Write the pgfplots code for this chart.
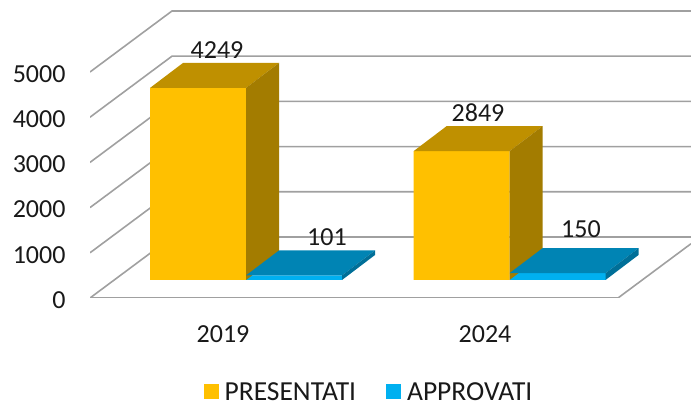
\documentclass[border=0pt]{standalone}
\usepackage{pgfplots}
\pgfplotsset{compat=1.18}
\usepackage{fontspec}
\setmainfont{Carlito}
\definecolor{gridc}{HTML}{A0A0A0}
\definecolor{pfront}{HTML}{FFC000}
\definecolor{ptop}{HTML}{BF9000}
\definecolor{pside}{HTML}{A37C00}
\definecolor{afront}{HTML}{00B0F0}
\definecolor{atop}{HTML}{0084B4}
\definecolor{aside}{HTML}{006F98}
\tikzset{gl/.style={draw=gridc, line width=1.6pt, no markers}}
\begin{document}
\begin{tikzpicture}[x=1pt,y=1pt]
\useasboundingbox (0,0) rectangle (691,403);
% ---- walls, floor and value axis: y = 0 at the front floor edge
\begin{axis}[
  at={(90pt,105pt)}, anchor=south west,
  scale only axis, width=601pt, height=298pt,
  xmin=90, xmax=691, ymin=0, ymax=6593,
  axis line style={draw=none}, major tick length=0pt,
  ytick={0,1000,2000,3000,4000,5000},
  xtick={223,485}, xticklabels={2019,2024},
  /pgf/number format/assume math mode=true,
  /pgf/number format/set thousands separator={},
  ticklabel style={font=\fontsize{26}{30}\selectfont, text=black!90},
  yticklabel style={xshift=-21pt, yshift=-2pt},
  xticklabel style={yshift=-24pt},
]
\addplot[gl] coordinates {(90,0) (172,1350) (691,1350)};
\addplot[gl] coordinates {(90,1000) (172,2350) (691,2350)};
\addplot[gl] coordinates {(90,2000) (172,3350) (691,3350)};
\addplot[gl] coordinates {(90,3000) (172,4350) (691,4350)};
\addplot[gl] coordinates {(90,4000) (172,5350) (691,5350)};
\addplot[gl] coordinates {(90,5000) (172,6350) (691,6350)};
\addplot[gl] coordinates {(90,0) (618,0) (691,1201)};
\end{axis}
% ---- bars: y = 0 at the foot of the bars
\begin{axis}[
  at={(90pt,123pt)}, anchor=south west,
  scale only axis, width=601pt, height=280pt,
  xmin=90, xmax=691, ymin=0, ymax=6195,
  hide axis, clip=false,
  legend columns=2,
  legend style={draw=none, fill=none, at={(0.4642,-0.4000)}, anchor=center,
    font=\fontsize{27.5}{30}\selectfont, text=black!90,
    inner sep=0pt, outer sep=0pt,
    /tikz/every even column/.append style={column sep=28pt},
    /tikz/every odd column/.append style={column sep=4pt}},
  legend image code/.code={\fill[#1,draw=none] (0pt,-7.5pt) rectangle (15pt,7.5pt);},
]
\addplot[ybar, bar width=96pt, bar shift=0pt, fill=pfront, draw=none] coordinates {(198,4249) (461.5,2849)};
\addplot[ybar, bar width=96pt, bar shift=0pt, fill=afront, draw=none] coordinates {(294,101) (558,150)};
\legend{PRESENTATI,APPROVATI}
% 2019 PRESENTATI
\addplot[fill=ptop, draw=none] coordinates {(150,4249) (183,4802) (279,4802) (246,4249)} --cycle;
\addplot[fill=pside, draw=none] coordinates {(246,0) (279,553) (279,4802) (246,4249)} --cycle;
% 2024 PRESENTATI
\addplot[fill=ptop, draw=none] coordinates {(413.5,2849) (446.5,3402) (542.5,3402) (509.5,2849)} --cycle;
\addplot[fill=pside, draw=none] coordinates {(509.5,0) (542.5,553) (542.5,3402) (509.5,2849)} --cycle;
% 2019 APPROVATI
\addplot[fill=atop, draw=none] coordinates {(246,101) (279,654) (375,654) (342,101)} --cycle;
\addplot[fill=aside, draw=none] coordinates {(342,0) (375,553) (375,654) (342,101)} --cycle;
% 2024 APPROVATI
\addplot[fill=atop, draw=none] coordinates {(509.5,150) (542.5,703) (638.5,703) (605.5,150)} --cycle;
\addplot[fill=aside, draw=none] coordinates {(605.5,0) (638.5,553) (638.5,703) (605.5,150)} --cycle;
\node[font=\fontsize{26}{30}\selectfont, text=black!90] at (axis cs:217,5088) {4249};
\node[font=\fontsize{26}{30}\selectfont, text=black!90] at (axis cs:327,951) {101};
\node[font=\fontsize{26}{30}\selectfont, text=black!90] at (axis cs:478,3695) {2849};
\node[font=\fontsize{26}{30}\selectfont, text=black!90] at (axis cs:581,1128) {150};
\end{axis}
\end{tikzpicture}
\end{document}
